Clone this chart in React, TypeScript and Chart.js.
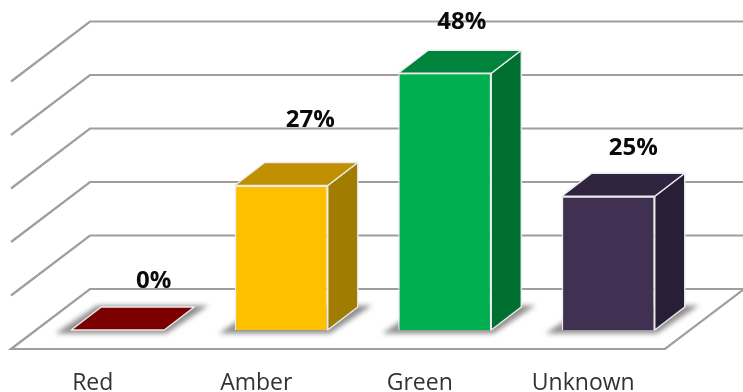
import React, { useEffect, useRef } from "react";
import { Chart, registerables } from "chart.js";

Chart.register(...registerables);

// Share of items per RAG status
const categories = ["Red", "Amber", "Green", "Unknown"];
const shares = [0, 0.27, 0.48, 0.25];
const axisTicks = [0, 0.1, 0.2, 0.3, 0.4, 0.5];

const frontColors = ["#7B0000", "#FFC000", "#00B050", "#403152"];
const topColors = ["#7B0000", "#C09000", "#00843C", "#302440"];
const sideColors = ["#7B0000", "#A07C00", "#007030", "#281E36"];

// Hand-placed value label nudges relative to the top-back edge of each column
const labelNudges = [
  { dx: 36, dy: -26 },
  { dx: 29, dy: -42 },
  { dx: 17, dy: -28 },
  { dx: 25, dy: -25 },
];

const FONT = '"Open Sans", sans-serif';
const BAR_DX = 30;
const BAR_DY = 23;
const FLOOR_FRONT = { dx: -25, dy: 19 };
const FLOOR_BACK = { dx: 54, dy: -41 };
const GRID_COLOR = "#9e9e9e";
const EDGE_COLOR = "#ececec";

function polygon(ctx: CanvasRenderingContext2D, pts: number[][]) {
  ctx.beginPath();
  pts.forEach(([x, y], i) => (i ? ctx.lineTo(x, y) : ctx.moveTo(x, y)));
  ctx.closePath();
}

// Back wall lines, left wall diagonals and the floor outline
const perspectiveGrid = {
  id: "perspectiveGrid",
  beforeDatasetsDraw(chart: any) {
    const { ctx, chartArea, scales } = chart;
    const left = chartArea.left;
    const right = chartArea.right;
    ctx.save();
    ctx.strokeStyle = GRID_COLOR;
    ctx.lineWidth = 2.2;
    ctx.lineJoin = "miter";
    for (const v of axisTicks) {
      const py = scales.y.getPixelForValue(v);
      const backY = py + FLOOR_BACK.dy;
      const frontY = py + FLOOR_FRONT.dy;
      ctx.beginPath();
      ctx.moveTo(left + FLOOR_FRONT.dx, frontY);
      ctx.lineTo(left + FLOOR_BACK.dx, backY);
      ctx.lineTo(right + FLOOR_BACK.dx, backY);
      if (v === 0) {
        ctx.lineTo(right + FLOOR_FRONT.dx, frontY);
        ctx.closePath();
      }
      ctx.stroke();
    }
    ctx.restore();
  },
};

// Soft floor shadow, then the side and top faces of each column
const columnFaces = {
  id: "columnFaces",
  beforeDatasetsDraw(chart: any) {
    const { ctx } = chart;
    const bars = chart.getDatasetMeta(0).data;
    bars.forEach((bar: any) => {
      const { x, base, width } = bar.getProps(["x", "base", "width"], true);
      const l = x - width / 2;
      const r = x + width / 2;
      ctx.save();
      ctx.filter = "blur(2.5px)";
      ctx.fillStyle = "#8f8f8f";
      polygon(ctx, [
        [l - 16, base + 3.5],
        [r + 2, base + 3.5],
        [r + BAR_DX + 14, base - BAR_DY - 1.5],
        [l + BAR_DX - 4, base - BAR_DY - 1.5],
      ]);
      ctx.fill();
      ctx.restore();
    });
    bars.forEach((bar: any, i: number) => {
      const { x, y, base, width } = bar.getProps(["x", "y", "base", "width"], true);
      const l = x - width / 2;
      const r = x + width / 2;
      ctx.save();
      ctx.strokeStyle = EDGE_COLOR;
      ctx.lineWidth = 1.4;
      ctx.lineJoin = "round";
      if (base - y > 0) {
        polygon(ctx, [
          [r, y],
          [r + BAR_DX, y - BAR_DY],
          [r + BAR_DX, base - BAR_DY],
          [r, base],
        ]);
        ctx.fillStyle = sideColors[i];
        ctx.fill();
        ctx.stroke();
      }
      polygon(ctx, [
        [l, y],
        [l + BAR_DX, y - BAR_DY],
        [r + BAR_DX, y - BAR_DY],
        [r, y],
      ]);
      ctx.fillStyle = topColors[i];
      ctx.fill();
      ctx.stroke();
      ctx.restore();
    });
  },
};

// Bold percentage labels floating above the columns
const valueLabels = {
  id: "valueLabels",
  afterDatasetsDraw(chart: any) {
    const { ctx } = chart;
    chart.getDatasetMeta(0).data.forEach((bar: any, i: number) => {
      const { x, y } = bar.getProps(["x", "y"], true);
      ctx.save();
      ctx.font = `bold 24px ${FONT}`;
      ctx.fillStyle = "#0a0a0a";
      ctx.textAlign = "center";
      ctx.textBaseline = "middle";
      ctx.fillText(
        `${Math.round(shares[i] * 100)}%`,
        x + labelNudges[i].dx,
        y - BAR_DY + labelNudges[i].dy
      );
      ctx.restore();
    });
  },
};

export default function App() {
  const ref = useRef<HTMLCanvasElement>(null);

  useEffect(() => {
    document.body.style.margin = "0";
    const chart = new Chart(ref.current!, {
      type: "bar",
      data: {
        labels: categories,
        datasets: [
          {
            data: shares,
            backgroundColor: frontColors,
            borderColor: EDGE_COLOR,
            borderWidth: 1.4,
            categoryPercentage: 0.569,
            barPercentage: 1,
          },
        ],
      },
      options: {
        responsive: false,
        animation: false,
        layout: { padding: { left: 36, right: 53, top: 62.5, bottom: 0 } },
        plugins: { legend: { display: false }, tooltip: { enabled: false } },
        scales: {
          x: {
            grid: { display: false, drawTicks: false },
            border: { display: false },
            afterFit: (scale: any) => {
              scale.height = 62;
            },
            ticks: {
              padding: 40,
              labelOffset: -25,
              maxRotation: 0,
              color: "#333333",
              font: { family: FONT, size: 23 },
            },
          },
          y: {
            display: false,
            min: 0,
            max: 0.5,
            afterBuildTicks: (scale: any) => {
              scale.ticks = axisTicks.map((value) => ({ value }));
            },
          },
        },
      },
      plugins: [perspectiveGrid, columnFaces, valueLabels],
    });
    return () => chart.destroy();
  }, []);

  return (
    <div style={{ width: 743, height: 392, background: "#ffffff" }}>
      <canvas ref={ref} width={743} height={392} style={{ display: "block" }} />
    </div>
  );
}
